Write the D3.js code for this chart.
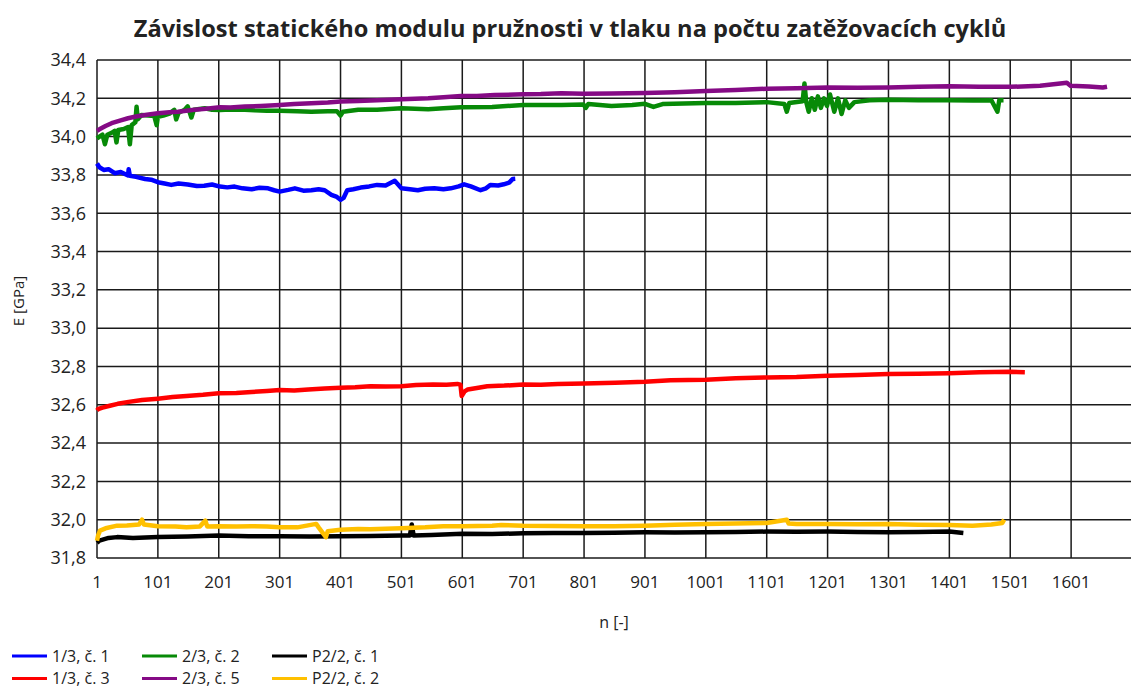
<!DOCTYPE html>
<html>
<head>
<meta charset="utf-8">
<script src="https://cdn.jsdelivr.net/npm/d3@7"></script>
<style>
  body { margin: 0; background: #fff; }
  text { font-family: "Open Sans", "DejaVu Sans", sans-serif; fill: #222; }
</style>
</head>
<body>
<div id="chart"></div>
<script>
// data: [n, E in GPa]
const s13c1 = [[1,33.86],[5,33.84],[12,33.826],[20,33.83],[30,33.809],[40,33.815],[52,33.797],[53,33.83],[55,33.795],[65,33.79],[80,33.779],[90,33.775],[101,33.762],[112,33.755],[123,33.748],[135,33.755],[150,33.75],[165,33.742],[177,33.744],[190,33.75],[203,33.739],[215,33.735],[227,33.739],[240,33.73],[255,33.725],[268,33.733],[282,33.73],[292,33.72],[301,33.713],[315,33.722],[326,33.73],[340,33.718],[353,33.72],[365,33.725],[375,33.72],[386,33.696],[395,33.685],[401,33.67],[406,33.68],[412,33.72],[422,33.725],[434,33.734],[448,33.74],[461,33.748],[475,33.745],[490,33.769],[501,33.73],[515,33.725],[528,33.72],[540,33.728],[555,33.73],[570,33.725],[582,33.73],[595,33.74],[604,33.751],[615,33.74],[631,33.72],[640,33.73],[647,33.748],[660,33.745],[669,33.751],[678,33.76],[684,33.779],[688,33.78]];
const s13c3 = [[1,32.57],[3,32.578],[10,32.585],[22,32.595],[35,32.605],[53,32.615],[75,32.625],[101,32.632],[125,32.64],[148,32.646],[175,32.652],[201,32.66],[230,32.662],[255,32.667],[280,32.672],[301,32.677],[325,32.675],[348,32.68],[375,32.685],[401,32.689],[425,32.692],[450,32.697],[475,32.695],[501,32.697],[525,32.703],[553,32.706],[575,32.705],[593,32.709],[598,32.705],[600,32.646],[605,32.67],[610,32.68],[625,32.688],[642,32.697],[670,32.7],[701,32.706],[730,32.705],[758,32.709],[801,32.711],[852,32.715],[901,32.72],[943,32.728],[1001,32.73],[1050,32.738],[1101,32.743],[1150,32.745],[1201,32.751],[1250,32.755],[1301,32.76],[1350,32.762],[1401,32.765],[1450,32.77],[1501,32.772],[1525,32.77]];
const s23c2 = [[1,33.99],[5,34.0],[10,34.01],[14,33.96],[18,34.01],[25,34.02],[30,34.03],[33,33.97],[36,34.035],[45,34.04],[52,34.05],[55,33.96],[58,34.06],[64,34.075],[66,34.156],[68,34.09],[74,34.113],[85,34.11],[95,34.108],[99,34.06],[101,34.104],[110,34.11],[120,34.12],[128,34.14],[131,34.09],[135,34.125],[145,34.14],[150,34.158],[156,34.1],[160,34.14],[178,34.148],[190,34.14],[203,34.139],[220,34.142],[244,34.14],[260,34.137],[280,34.135],[301,34.135],[330,34.132],[353,34.13],[380,34.132],[395,34.133],[401,34.11],[405,34.13],[430,34.14],[461,34.14],[501,34.148],[545,34.143],[570,34.148],[599,34.153],[650,34.155],[701,34.165],[764,34.165],[800,34.168],[804,34.15],[808,34.17],[846,34.16],[880,34.165],[901,34.171],[915,34.155],[930,34.17],[1001,34.176],[1050,34.175],[1101,34.18],[1130,34.17],[1134,34.13],[1138,34.175],[1160,34.185],[1163,34.277],[1166,34.18],[1170,34.13],[1175,34.2],[1180,34.14],[1185,34.21],[1190,34.15],[1195,34.2],[1200,34.16],[1205,34.22],[1212,34.13],[1218,34.2],[1224,34.118],[1230,34.19],[1236,34.15],[1245,34.18],[1270,34.19],[1301,34.193],[1350,34.19],[1401,34.19],[1440,34.188],[1470,34.19],[1480,34.13],[1483,34.19],[1490,34.19]];
const s23c5 = [[1,34.03],[5,34.038],[15,34.055],[25,34.07],[40,34.085],[52,34.096],[65,34.105],[80,34.113],[101,34.122],[120,34.127],[134,34.13],[161,34.14],[180,34.145],[203,34.153],[220,34.152],[244,34.157],[270,34.16],[301,34.165],[325,34.17],[353,34.174],[380,34.178],[401,34.183],[430,34.186],[461,34.19],[501,34.195],[545,34.2],[570,34.205],[599,34.212],[625,34.212],[654,34.217],[701,34.221],[730,34.222],[764,34.226],[800,34.224],[846,34.225],[901,34.228],[950,34.232],[1001,34.238],[1050,34.243],[1101,34.25],[1150,34.252],[1201,34.256],[1250,34.255],[1301,34.256],[1350,34.26],[1401,34.263],[1450,34.26],[1501,34.26],[1550,34.265],[1594,34.281],[1600,34.265],[1630,34.262],[1653,34.256],[1660,34.26]];
const sP22c1 = [[1,31.88],[5,31.891],[20,31.905],[34,31.909],[60,31.905],[101,31.909],[150,31.912],[201,31.917],[250,31.913],[301,31.914],[350,31.912],[401,31.914],[450,31.915],[501,31.917],[515,31.918],[518,31.975],[521,31.918],[550,31.92],[601,31.926],[650,31.925],[701,31.929],[750,31.93],[801,31.931],[850,31.932],[901,31.934],[950,31.933],[1001,31.934],[1050,31.936],[1101,31.938],[1150,31.937],[1201,31.938],[1250,31.936],[1301,31.934],[1350,31.936],[1401,31.938],[1424,31.931]];
const sP22c2 = [[1,31.89],[3,31.92],[6,31.943],[15,31.955],[34,31.969],[50,31.97],[70,31.975],[75,32.0],[78,31.975],[101,31.966],[130,31.965],[148,31.96],[170,31.965],[179,31.995],[182,31.965],[201,31.966],[230,31.965],[255,31.966],[280,31.964],[301,31.96],[330,31.96],[361,31.978],[365,31.96],[377,31.909],[380,31.94],[401,31.948],[430,31.951],[450,31.95],[475,31.953],[501,31.955],[540,31.96],[570,31.966],[601,31.966],[650,31.969],[665,31.972],[701,31.968],[750,31.967],[801,31.966],[850,31.966],[901,31.968],[950,31.973],[1001,31.978],[1050,31.98],[1101,31.983],[1134,32.0],[1137,31.98],[1150,31.978],[1201,31.978],[1250,31.976],[1301,31.978],[1350,31.974],[1401,31.972],[1439,31.969],[1470,31.975],[1488,31.983],[1491,32.0]];

const seriesNames = ["1/3, č. 1", "1/3, č. 3", "2/3, č. 2", "2/3, č. 5", "P2/2, č. 1", "P2/2, č. 2"];
const seriesData = [s13c1, s13c3, s23c2, s23c5, sP22c1, sP22c2];
const seriesColors = ["#0000ff", "#ff0000", "#078a07", "#850a85", "#000000", "#ffc000"];

const xTicks = [1, 101, 201, 301, 401, 501, 601, 701, 801, 901, 1001, 1101, 1201, 1301, 1401, 1501, 1601];
const yTicks = [31.8, 32.0, 32.2, 32.4, 32.6, 32.8, 33.0, 33.2, 33.4, 33.6, 33.8, 34.0, 34.2, 34.4];

const titleText = "Závislost statického modulu pružnosti v tlaku na počtu zatěžovacích cyklů";

// layout
const width = 1131, height = 688;
const plot = {left: 97, right: 1132, top: 60, bottom: 558};

const svg = d3.select("#chart").append("svg")
  .attr("width", width)
  .attr("height", height);

const x = d3.scaleLinear().domain([1, 1701]).range([plot.left, plot.right]);
const y = d3.scaleLinear().domain([31.8, 34.4]).range([plot.bottom, plot.top]);

const fmt = d => d3.format(".1f")(d).replace(".", ",");

// grid
const grid = svg.append("g");
grid.selectAll(".gx")
  .data(xTicks.concat([1701]))
  .enter().append("line")
  .attr("x1", d => x(d)).attr("x2", d => x(d))
  .attr("y1", plot.top).attr("y2", plot.bottom)
  .attr("stroke", "#1a1a1a").attr("stroke-width", 1.5);
grid.selectAll(".gy")
  .data(yTicks)
  .enter().append("line")
  .attr("x1", plot.left).attr("x2", plot.right)
  .attr("y1", d => y(d)).attr("y2", d => y(d))
  .attr("stroke", "#1a1a1a").attr("stroke-width", 1.5);

// tick labels
svg.append("g").selectAll("text")
  .data(yTicks)
  .enter().append("text")
  .attr("x", plot.left - 11)
  .attr("y", d => y(d))
  .attr("dy", "0.35em")
  .attr("text-anchor", "end")
  .style("font-size", "18px")
  .text(fmt);

svg.append("g").selectAll("text")
  .data(xTicks)
  .enter().append("text")
  .attr("x", d => x(d))
  .attr("y", plot.bottom + 24)
  .attr("dy", "0.35em")
  .attr("text-anchor", "middle")
  .style("font-size", "17px")
  .text(d => d);

// series
const line = d3.line()
  .x(d => x(d[0]))
  .y(d => y(d[1]));

svg.append("g").selectAll("path")
  .data(seriesData)
  .enter().append("path")
  .attr("d", line)
  .attr("fill", "none")
  .attr("stroke", (d, i) => seriesColors[i])
  .attr("stroke-width", 4.5)
  .attr("stroke-linejoin", "round");

// titles
const title = svg.append("text")
  .attr("x", 570).attr("y", 37)
  .attr("text-anchor", "middle")
  .style("font-size", "20px")
  .style("font-weight", "bold")
  .text(titleText);
// scale title so it spans about the same width as the original
const tw = title.node().getComputedTextLength();
title.style("font-size", (20 * 874 / tw).toFixed(1) + "px");

svg.append("text")
  .attr("transform", "translate(24,301) rotate(-90)")
  .attr("text-anchor", "middle")
  .style("font-size", "15px")
  .text("E [GPa]");

svg.append("text")
  .attr("x", 614).attr("y", 622)
  .attr("dy", "0.35em")
  .attr("text-anchor", "middle")
  .style("font-size", "16px")
  .text("n [-]");

// legend, filled column by column
const legend = svg.append("g").selectAll("g")
  .data(seriesNames)
  .enter().append("g")
  .attr("transform", (d, i) => `translate(${12 + Math.floor(i / 2) * 130},${656 + (i % 2) * 22.5})`);

legend.append("line")
  .attr("x1", 0).attr("x2", 35)
  .attr("stroke", (d, i) => seriesColors[i])
  .attr("stroke-width", 3);

legend.append("text")
  .attr("x", 40)
  .attr("dy", "0.35em")
  .style("font-size", "16px")
  .text(d => d);
</script>
</body>
</html>
